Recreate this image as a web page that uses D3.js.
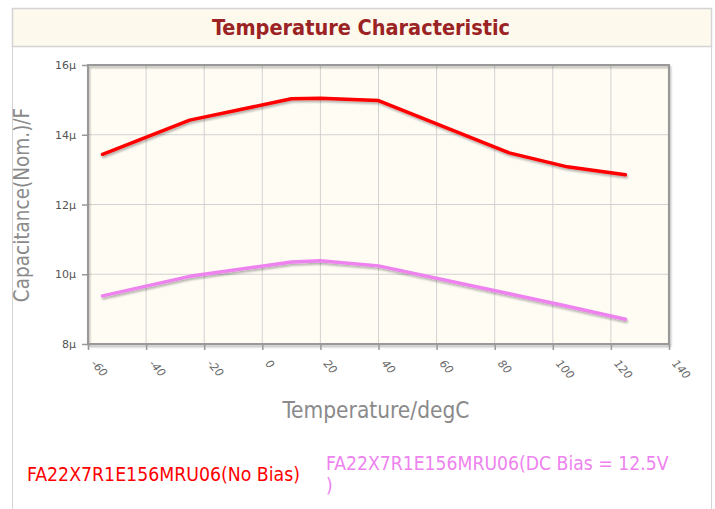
<!DOCTYPE html>
<html>
<head>
<meta charset="utf-8">
<script src="https://cdn.jsdelivr.net/npm/d3@7"></script>
<style>
  body { margin: 0; background: #fff; }
  svg { display: block; }
</style>
</head>
<body>
<div id="chart"></div>
<script>
// temperatures where the curves were measured (degC)
var temps = [-55, -25, 10, 20, 40, 85, 105, 125];
// capacitance in micro farads
var noBias = [13.44, 14.42, 15.03, 15.05, 14.98, 13.48, 13.08, 12.85];
var dcBias = [9.38, 9.94, 10.35, 10.39, 10.24, 9.44, 9.08, 8.71];

var seriesNames = ["FA22X7R1E156MRU06(No Bias)", "FA22X7R1E156MRU06(DC Bias = 12.5V"];
var seriesColors = ["#ff0000", "#ee82ee"];

var xTicks = [-60, -40, -20, 0, 20, 40, 60, 80, 100, 120, 140];
var yTicks = [8, 10, 12, 14, 16];

var svgWidth = 715;
var svgHeight = 509;

// plot frame inside the page
var margin = { top: 65, right: 46, bottom: 165, left: 88 };
var width = svgWidth - margin.left - margin.right;
var height = svgHeight - margin.top - margin.bottom;

var condensed = "'DejaVu Sans Condensed', 'DejaVu Sans', sans-serif";

var svg = d3.select("#chart")
  .append("svg")
  .attr("width", svgWidth)
  .attr("height", svgHeight);

var defs = svg.append("defs");
var shadow = defs.append("filter")
  .attr("id", "shadow")
  .attr("x", "-5%").attr("y", "-5%")
  .attr("width", "110%").attr("height", "120%");
shadow.append("feDropShadow")
  .attr("dx", 1).attr("dy", 2)
  .attr("stdDeviation", 1)
  .attr("flood-color", "#000")
  .attr("flood-opacity", 0.3);

// outer panel and header
svg.append("rect")
  .attr("x", 12.5).attr("y", 8.5)
  .attr("width", 699).attr("height", 520)
  .attr("fill", "#fff")
  .attr("stroke", "#d4d4d4");

svg.append("rect")
  .attr("x", 12.5).attr("y", 8.5)
  .attr("width", 699).attr("height", 38)
  .attr("fill", "#fdf9ed")
  .attr("stroke", "#d4d4d4")
  .attr("stroke-width", 1.5);

svg.append("text")
  .attr("x", 361).attr("y", 35)
  .attr("text-anchor", "middle")
  .style("font-family", condensed)
  .style("font-weight", "bold")
  .style("font-size", "21.5px")
  .style("fill", "#9b2324")
  .text("Temperature Characteristic");

var chartGroup = svg.append("g")
  .attr("transform", `translate(${margin.left}, ${margin.top})`);

var xScale = d3.scaleLinear().domain([-60, 140]).range([0, width]);
var yScale = d3.scaleLinear().domain([8, 16]).range([height, 0]);

// plot background
chartGroup.append("rect")
  .attr("width", width).attr("height", height)
  .attr("fill", "#fffcf4");

// grid
chartGroup.append("g")
  .selectAll("line")
  .data(xTicks.slice(1, -1))
  .enter().append("line")
  .attr("x1", d => xScale(d)).attr("x2", d => xScale(d))
  .attr("y1", 0).attr("y2", height)
  .attr("stroke", "#d2d2d2").attr("stroke-width", 1);

chartGroup.append("g")
  .selectAll("line")
  .data(yTicks.slice(1, -1))
  .enter().append("line")
  .attr("x1", 0).attr("x2", width)
  .attr("y1", d => yScale(d)).attr("y2", d => yScale(d))
  .attr("stroke", "#d2d2d2").attr("stroke-width", 1);

// frame with shadow
chartGroup.append("rect")
  .attr("width", width).attr("height", height)
  .attr("fill", "none")
  .attr("stroke", "#999")
  .attr("stroke-width", 2)
  .attr("filter", "url(#shadow)");

// axes
var bottomAxis = d3.axisBottom(xScale).tickValues(xTicks).tickSize(6).tickSizeOuter(0).tickFormat(d => d);
var leftAxis = d3.axisLeft(yScale).tickValues(yTicks).tickSize(6).tickSizeOuter(0).tickFormat(d => d + "µ");

var xAxisG = chartGroup.append("g")
  .attr("transform", `translate(0, ${height})`)
  .call(bottomAxis);
xAxisG.select(".domain").remove();
xAxisG.selectAll("line").attr("stroke", "#999").attr("stroke-width", 1.5);
xAxisG.selectAll("text")
  .attr("y", 0).attr("dy", 0)
  .attr("transform", "translate(2, 20) rotate(48)")
  .attr("text-anchor", "start")
  .style("font-family", "'DejaVu Sans', sans-serif")
  .style("font-style", "italic")
  .style("font-size", "11px")
  .style("fill", "#666");

var yAxisG = chartGroup.append("g").call(leftAxis);
yAxisG.select(".domain").remove();
yAxisG.selectAll("line").attr("stroke", "#999").attr("stroke-width", 1.5);
yAxisG.selectAll("text")
  .attr("x", -12)
  .style("font-family", "'DejaVu Sans', sans-serif")
  .style("font-size", "11px")
  .style("fill", "#555");

// series lines
var lineGen = d3.line()
  .x(d => xScale(d[0]))
  .y(d => yScale(d[1]));

[noBias, dcBias].forEach(function(vals, i) {
  var pts = temps.map((t, j) => [t, vals[j]]);
  chartGroup.append("path")
    .datum(pts)
    .attr("d", lineGen)
    .attr("fill", "none")
    .attr("stroke", seriesColors[i])
    .attr("stroke-width", 3.5)
    .attr("stroke-linejoin", "round")
    .attr("stroke-linecap", "round")
    .attr("filter", "url(#shadow)");
});

// axis titles
svg.append("text")
  .attr("transform", "translate(29, 205) rotate(-90)")
  .attr("text-anchor", "middle")
  .style("font-family", condensed)
  .style("font-size", "20.5px")
  .style("fill", "#8a8a8a")
  .text("Capacitance(Nom.)/F");

svg.append("text")
  .attr("x", 376).attr("y", 418)
  .attr("text-anchor", "middle")
  .style("font-family", condensed)
  .style("font-size", "22.5px")
  .style("fill", "#8a8a8a")
  .text("Temperature/degC");

// legend
svg.append("text")
  .attr("x", 27).attr("y", 481)
  .style("font-family", condensed)
  .style("font-size", "19.3px")
  .style("fill", seriesColors[0])
  .text(seriesNames[0]);

var leg2 = svg.append("text")
  .attr("x", 326).attr("y", 470)
  .style("font-family", condensed)
  .style("font-size", "19.2px")
  .style("fill", seriesColors[1]);
leg2.append("tspan").attr("x", 326).text(seriesNames[1]);
leg2.append("tspan").attr("x", 326).attr("dy", 22).text(")");
</script>
</body>
</html>
